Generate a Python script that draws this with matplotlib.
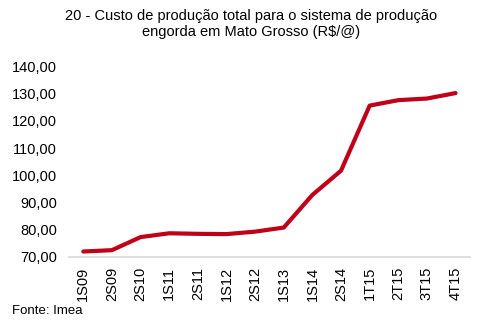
import matplotlib
matplotlib.use("Agg")
import matplotlib.pyplot as plt
from matplotlib.ticker import FuncFormatter

# Custo de produção (R$/@) por período
periodos = ["1S09", "2S09", "2S10", "1S11", "2S11", "1S12", "2S12",
            "1S13", "1S14", "2S14", "1T15", "2T15", "3T15", "4T15"]
custo = [72.0, 72.5, 77.3, 78.7, 78.5, 78.4, 79.3,
         80.8, 92.8, 101.7, 125.6, 127.6, 128.2, 130.2]
y_ticks = [70, 80, 90, 100, 110, 120, 130, 140]

LINE_RED = "#c00018"
AXIS_GRAY = "#d9d9d9"
INK = "#000000"

plt.rcParams["font.family"] = ["Liberation Sans", "DejaVu Sans"]

fig = plt.figure(figsize=(4.91, 3.32), dpi=100, facecolor="white")
ax = fig.add_axes([0.1405, 0.226, 0.8165, 0.574])

x = list(range(len(periodos)))
ax.plot(x, custo, color=LINE_RED, linewidth=3.0, solid_capstyle="round",
        solid_joinstyle="round", zorder=3)

ax.set_xlim(-0.5, len(periodos) - 0.5)
ax.set_ylim(70, 140)
ax.set_yticks(y_ticks)
ax.yaxis.set_major_formatter(FuncFormatter(lambda v, _: f"{v:.2f}".replace(".", ",")))
ax.set_xticks(x)
ax.set_xticklabels(periodos, rotation=90)

for s in ("top", "right", "left"):
    ax.spines[s].set_visible(False)
ax.spines["bottom"].set_color(AXIS_GRAY)
ax.spines["bottom"].set_linewidth(1.2)
ax.tick_params(axis="both", length=0, labelsize=10.5, colors=INK)
ax.tick_params(axis="y", pad=8.5)
ax.tick_params(axis="x", pad=7)

fig.text(0.511, 0.972, "20 - Custo de produção total para o sistema de produção\n"
         "engorda em Mato Grosso (R$/@)", ha="center", va="top",
         fontsize=10.5, linespacing=1.15, color=INK)
fig.text(0.024, 0.063, "Fonte: Imea", ha="left", va="center", fontsize=9.5, color=INK)

fig.savefig("out.png", dpi=100, facecolor="white")
